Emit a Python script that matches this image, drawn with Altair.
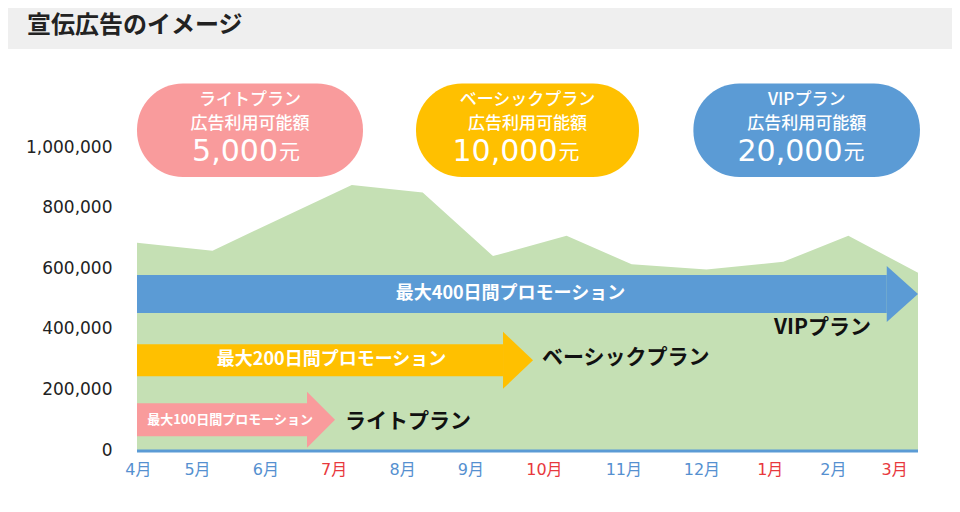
import altair as alt
import pandas as pd

# ---------------- data ----------------
months = ["4月", "5月", "6月", "7月", "8月", "9月", "10月", "11月", "12月", "1月", "2月", "3月"]
month_pos = [0.02, 0.93, 1.98, 3.03, 4.08, 5.13, 6.26, 7.48, 8.68, 9.73, 10.70, 11.64]
month_red = [False, False, False, True, False, False, True, False, False, True, False, True]

area_x = [0.0, 1.16, 3.30, 4.39, 5.47, 6.60, 7.60, 8.75, 9.93, 10.93, 12.0]
area_y = [684000, 658000, 875000, 850000, 640000, 707000, 613000, 596000, 621000, 707000, 585000]

y_ticks = [0, 200000, 400000, 600000, 800000, 1000000]

plans = ["ライトプラン", "ベーシックプラン", "VIPプラン"]
plan_days = [100, 200, 400]
plan_budget = ["5,000", "10,000", "20,000"]
plan_colors = ["#f99b9c", "#ffc000", "#5b9bd5"]

# ---------------- layout (in scale units: months / value) ----------------
arrow_body_end = [2.612, 5.624, 11.52]
arrow_tip = [3.042, 6.085, 12.0]
arrow_center = [100000, 296000, 515000]
arrow_body_half = [54500, 53000, 62700]
arrow_head_half = [92400, 94000, 92400]
arrow_text_x = [1.429, 2.989, 5.739]
arrow_text_size = [13, 18, 18]
plan_label_x = [3.196, 6.223, 9.787]
plan_label_y = [92400, 303600, 402600]

box_x = [0.0, 4.287, 8.549]
box_x2 = [3.472, 7.713, 12.03]
box_y, box_y2 = 901000, 1209600
box_cx = [1.736, 6.0, 10.29]
box_split = [2.166, 6.461, 10.84]
line1_y, line2_y, line3_y = 1155100, 1075900, 953800

Y_MAX = 442 / 303 * 1e6
xs = alt.Scale(domain=[0, 12], nice=False, zero=False)
ys = alt.Scale(domain=[0, Y_MAX], nice=False, zero=False)
CJK = "Noto Sans CJK JP"
NUM = "DejaVu Sans"
BLUE_T = "#5590d0"
RED_T = "#e8383d"

y_axis = alt.Axis(values=y_ticks, format=",d", labelFont=NUM, labelFontSize=17,
                  labelColor="#222222", domain=False, ticks=False, grid=False,
                  labelPadding=25, title=None)


def X(f="x"):
    return alt.X(f"{f}:Q", scale=xs, axis=None)


def Y(f="y"):
    return alt.Y(f"{f}:Q", scale=ys, axis=y_axis, stack=None)


# title bar
title_df = pd.DataFrame({"x": [-2.1], "x2": [12.6], "y": [(450 - 49) * 1e6 / 303], "y2": [Y_MAX],
                         "tx": [-1.69], "ty": [(450 - 26) * 1e6 / 303], "t": ["宣伝広告のイメージ"]})
title_bar = alt.Chart(title_df).mark_rect(color="#efefef").encode(x=X(), x2="x2:Q", y=Y(), y2="y2:Q")
title_text = alt.Chart(title_df).mark_text(align="left", baseline="middle", font=CJK, fontSize=24,
                                           fontWeight="bold", color="#222222").encode(
    x=X("tx"), y=Y("ty"), text="t:N")

# green area
area_df = pd.DataFrame({"x": area_x, "y": area_y})
area = alt.Chart(area_df).mark_area(color="#c5e0b4", opacity=1).encode(x=X(), y=Y())

# baseline
base_df = pd.DataFrame({"x": [0.0], "x2": [12.0], "y": [-3300]})
baseline = alt.Chart(base_df).mark_rule(color="#5b9bd5", strokeWidth=3).encode(
    x=X(), x2="x2:Q", y=Y())

# arrows: body rect + triangular head
body_df = pd.DataFrame({
    "x": [0.0] * 3, "x2": arrow_body_end,
    "lo": [c - h for c, h in zip(arrow_center, arrow_body_half)],
    "hi": [c + h for c, h in zip(arrow_center, arrow_body_half)],
    "col": plan_colors})
bodies = alt.Chart(body_df).mark_rect().encode(
    x=X(), x2="x2:Q", y=Y("lo"), y2="hi:Q", color=alt.Color("col:N", scale=None))

heads = []
for i in range(3):
    c, hh = arrow_center[i], arrow_head_half[i]
    hdf = pd.DataFrame({"x": [arrow_body_end[i], arrow_tip[i]], "lo": [c - hh, c], "hi": [c + hh, c]})
    heads.append(alt.Chart(hdf).mark_area(color=plan_colors[i], opacity=1).encode(
        x=X(), y=Y("lo"), y2="hi:Q"))

at_df = pd.DataFrame({"x": arrow_text_x, "y": arrow_center,
                      "t": [f"最大{d}日間プロモーション" for d in plan_days], "s": arrow_text_size})
arrow_text = alt.Chart(at_df).mark_text(font=CJK, color="white", baseline="middle", align="center",
                                        fontWeight="bold").encode(
    x=X(), y=Y(), text="t:N", size=alt.Size("s:Q", scale=None))

pl_df = pd.DataFrame({"x": plan_label_x, "y": plan_label_y, "t": plans})
plan_text = alt.Chart(pl_df).mark_text(font=CJK, fontSize=21, fontWeight="bold", color="#111111",
                                       align="left", baseline="middle").encode(x=X(), y=Y(), text="t:N")

# rounded boxes
box_df = pd.DataFrame({"x": box_x, "x2": box_x2, "y": [box_y] * 3, "y2": [box_y2] * 3, "col": plan_colors,
                       "cx": box_cx, "sx": box_split, "l1": plans, "l2": ["広告利用可能額"] * 3,
                       "num": plan_budget, "yen": ["元"] * 3,
                       "y1": [line1_y] * 3, "y2t": [line2_y] * 3, "y3": [line3_y] * 3})
boxes = alt.Chart(box_df).mark_rect(cornerRadius=46).encode(
    x=X(), x2="x2:Q", y=Y(), y2="y2:Q", color=alt.Color("col:N", scale=None))
b1 = alt.Chart(box_df).mark_text(font=CJK, fontSize=17, fontWeight=500, color="white",
                                 baseline="middle").encode(x=X("cx"), y=Y("y1"), text="l1:N")
b2 = alt.Chart(box_df).mark_text(font=CJK, fontSize=17, fontWeight=500, color="white",
                                 baseline="middle").encode(x=X("cx"), y=Y("y2t"), text="l2:N")
b3 = alt.Chart(box_df).mark_text(font=NUM, fontSize=30, color="white", baseline="alphabetic",
                                 align="right").encode(x=X("sx"), y=Y("y3"), text="num:N")
b4 = alt.Chart(box_df).mark_text(font=CJK, fontSize=21, color="white", baseline="alphabetic",
                                 align="left", dx=1, dy=-2).encode(x=X("sx"), y=Y("y3"), text="yen:N")

# month labels
m_df = pd.DataFrame({"x": month_pos, "y": [-(470 - 450) * 1e6 / 303] * 12, "t": months,
                     "col": [RED_T if r else BLUE_T for r in month_red]})
month_text = alt.Chart(m_df).mark_text(font=f"{NUM}, {CJK}", fontSize=16, baseline="middle").encode(
    x=X(), y=Y(), text="t:N", color=alt.Color("col:N", scale=None))

chart = alt.layer(area, title_bar, title_text, baseline, bodies, *heads, arrow_text, plan_text,
                  boxes, b1, b2, b3, b4, month_text).properties(
    width=781, height=442,
    padding={"left": 129, "right": 34, "top": 0, "bottom": 48},
    autosize=alt.AutoSizeParams(type="none"),
).configure_view(stroke=None)

chart.save("out.html", embed_options={"renderer": "svg", "actions": False})
